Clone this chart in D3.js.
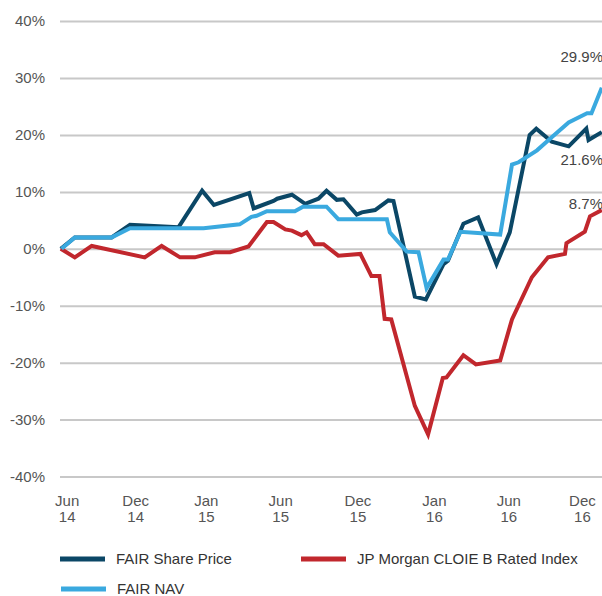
<!DOCTYPE html>
<html>
<head>
<meta charset="utf-8">
<script src="https://cdn.jsdelivr.net/npm/d3@7"></script>
<style>
  body { margin: 0; background: #fff; }
  svg { display: block; font-family: "Liberation Sans", Arial, sans-serif; }
</style>
</head>
<body>
<div id="chart-area"></div>
<script>
/*
*    performance chart
*/

// x axis slots (labels are not evenly spaced in time, so use a period index)
const tickPos = [0, 0.93, 1.89, 2.90, 3.95, 4.99, 6.0, 7.0];
const tickMonths = ["Jun", "Dec", "Jan", "Jun", "Dec", "Jan", "Jun", "Dec"];
const tickYears = ["14", "14", "15", "15", "15", "16", "16", "16"];
const yTicks = [-40, -30, -20, -10, 0, 10, 20, 30, 40];

// FAIR Share Price
const shareT = [-0.08, 0.11, 0.61, 0.86, 1.52, 1.84, 2.00, 2.48, 2.54, 2.81, 2.86, 3.06, 3.24, 3.42, 3.53,
  3.67, 3.76, 3.94, 4.01, 4.19, 4.37, 4.44, 4.73, 4.88, 5.12, 5.18, 5.39, 5.59, 5.84, 6.02,
  6.29, 6.38, 6.59, 6.82, 7.06, 7.09, 7.27];
const shareVal = [0, 2, 2, 4.2, 3.8, 10.2, 7.7, 9.8, 7.1, 8.4, 8.8, 9.5, 7.9, 8.8, 10.2,
  8.6, 8.7, 6.0, 6.4, 6.8, 8.5, 8.4, -8.4, -8.9, -2.7, -2.1, 4.4, 5.5, -2.7, 2.9,
  20, 21.1, 18.8, 18, 21.1, 19.1, 20.5];

// FAIR NAV
const navT = [-0.07, 0.11, 0.61, 0.86, 1.86, 2.35, 2.51, 2.58, 2.72, 3.10, 3.21, 3.53, 3.69, 4.35, 4.39,
  4.62, 4.78, 4.89, 5.12, 5.18, 5.35, 5.89, 6.05, 6.14, 6.39, 6.59, 6.82, 7.07, 7.13, 7.27];
const navVal = [0, 2, 2, 3.6, 3.6, 4.3, 5.6, 5.8, 6.6, 6.6, 7.4, 7.4, 5.2, 5.2, 2.9,
  -0.5, -0.6, -6.9, -1.9, -1.9, 3.0, 2.5, 14.8, 15.2, 17.3, 19.6, 22.2, 23.8, 23.8, 28.3];

// JP Morgan CLOIE B Rated Index
const cloieT = [-0.08, 0.11, 0.34, 1.06, 1.29, 1.54, 1.74, 2.01, 2.22, 2.47, 2.72, 2.81, 2.97, 3.06, 3.19,
  3.26, 3.37, 3.49, 3.69, 3.99, 4.14, 4.25, 4.32, 4.41, 4.73, 4.91, 5.11, 5.16, 5.39, 5.56,
  5.89, 6.05, 6.32, 6.54, 6.77, 6.79, 7.04, 7.11, 7.27];
const cloieVal = [0, -1.5, 0.5, -1.5, 0.5, -1.5, -1.5, -0.6, -0.6, 0.4, 4.7, 4.7, 3.4, 3.2, 2.4,
  2.9, 0.8, 0.8, -1.2, -0.9, -4.8, -4.8, -12.3, -12.4, -27.6, -32.6, -22.7, -22.6, -18.7, -20.3,
  -19.6, -12.4, -5, -1.5, -0.9, 1.0, 3.0, 5.7, 6.8];

const seriesNames = ["FAIR Share Price", "JP Morgan CLOIE B Rated Index", "FAIR NAV"];
const seriesColors = ["#0b4766", "#c1272d", "#3aa9df"];
const endLabels = ["29.9%", "21.6%", "8.7%"];

const width = 602;
const height = 596;

const svg = d3.select("#chart-area")
  .append("svg")
    .attr("width", width)
    .attr("height", height);

const xScale = d3.scaleLinear()
  .domain([0, 7])
  .range([66.7, 581.9]);

const yScale = d3.scaleLinear()
  .domain([-40, 40])
  .range([476.5, 21.1]);

// gridlines + y labels
const yAxisGroup = svg.append("g")
    .attr("class", "axis y-axis")
    .attr("transform", "translate(60,0)")
    .call(d3.axisLeft(yScale)
      .tickValues(yTicks)
      .tickSizeInner(-560)
      .tickSizeOuter(0)
      .tickPadding(15)
      .tickFormat(d => d + "%"));

yAxisGroup.select(".domain").remove();
yAxisGroup.selectAll(".tick line")
    .attr("stroke", "#c8c8c8")
    .attr("stroke-width", 2);
yAxisGroup.selectAll(".tick text")
    .attr("fill", "#555")
    .style("font-size", "15px");

// x labels, two lines each
const xAxisGroup = svg.append("g")
    .attr("class", "axis x-axis")
    .attr("transform", "translate(0,494)")
    .call(d3.axisBottom(xScale)
      .tickValues(tickPos)
      .tickSize(0)
      .tickPadding(0)
      .tickFormat(""));

xAxisGroup.select(".domain").remove();
xAxisGroup.selectAll(".tick text").each(function(d, i) {
  const t = d3.select(this)
      .attr("fill", "#555")
      .attr("dy", null)
      .style("font-size", "15px");
  t.append("tspan").attr("x", 0).attr("y", 12).text(tickMonths[i]);
  t.append("tspan").attr("x", 0).attr("y", 27.5).text(tickYears[i]);
});

// lines
const line = d3.line()
    .x(d => xScale(d[0]))
    .y(d => yScale(d[1]));

const shareData = d3.zip(shareT, shareVal);
const cloieData = d3.zip(cloieT, cloieVal);
const navData = d3.zip(navT, navVal);

[shareData, cloieData, navData].forEach((data, i) => {
  svg.append("path")
      .datum(data)
      .attr("fill", "none")
      .attr("stroke", seriesColors[i])
      .attr("stroke-width", 4)
      .attr("d", line);
});

// end values
const endText = svg.append("g")
    .attr("fill", "#444")
    .attr("text-anchor", "end")
    .style("font-size", "15px");

endText.append("text")
    .attr("x", 603)
    .attr("y", yScale(navVal[navVal.length - 1]) - 26)
    .text(endLabels[0]);

endText.append("text")
    .attr("x", 603)
    .attr("y", yScale(shareVal[shareVal.length - 1]) + 33)
    .text(endLabels[1]);

endText.append("text")
    .attr("x", 603)
    .attr("y", yScale(cloieVal[cloieVal.length - 1]) - 1)
    .text(endLabels[2]);

// legend
const legendPos = [[60, 559], [301, 559], [61, 589]];

const legend = svg.append("g")
    .attr("class", "legend");

seriesNames.forEach((name, i) => {
  const g = legend.append("g")
      .attr("transform", `translate(${legendPos[i][0]},${legendPos[i][1]})`);
  g.append("line")
      .attr("x1", 0)
      .attr("x2", 45)
      .attr("stroke", seriesColors[i])
      .attr("stroke-width", 5);
  g.append("text")
      .attr("x", 56)
      .attr("dy", "0.35em")
      .attr("fill", "#333")
      .style("font-size", "15px")
      .text(name);
});
</script>
</body>
</html>
